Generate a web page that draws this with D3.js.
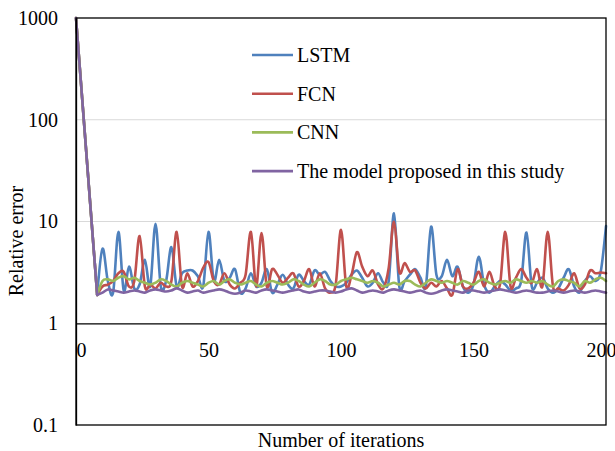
<!DOCTYPE html>
<html>
<head>
<meta charset="utf-8">
<script src="https://cdn.jsdelivr.net/npm/d3@7"></script>
<style>
  body { margin: 0; background: #fff; }
  text { font-family: "Liberation Serif", "Times New Roman", serif; fill: #000; }
</style>
</head>
<body>
<svg id="chart" width="615" height="451"></svg>
<script>
var iterations = [0,
  8, 10, 12, 14, 16, 18, 20, 22, 24, 26,
  28, 30, 32, 34, 36, 38, 40, 42, 44, 46,
  48, 50, 52, 54, 56, 58, 60, 62, 64, 66,
  68, 70, 72, 74, 76, 78, 80, 82, 84, 86,
  88, 90, 92, 94, 96, 98, 100, 102, 104, 106,
  108, 110, 112, 114, 116, 118, 120, 122, 124, 126,
  128, 130, 132, 134, 136, 138, 140, 142, 144, 146,
  148, 150, 152, 154, 156, 158, 160, 162, 164, 166,
  168, 170, 172, 174, 176, 178, 180, 182, 184, 186,
  188, 190, 192, 194, 196, 198, 200];

var lstm = [1000,
  1.9, 5.4, 2.6, 2.0, 7.9, 2.1, 3.6, 2.2, 2.4, 4.2,
  2.3, 9.5, 2.3, 2.6, 5.6, 2.3, 3.1, 3.3, 3.3, 2.9,
  2.3, 7.9, 2.6, 4.2, 2.6, 2.8, 3.4, 2.0, 2.2, 3.1,
  2.3, 2.5, 3.4, 2.0, 2.4, 3.0, 2.4, 2.2, 3.0, 2.6,
  2.4, 3.3, 3.0, 3.2, 2.6, 2.3, 2.3, 2.5, 3.0, 3.3,
  2.8, 2.3, 2.5, 3.1, 2.5, 2.6, 12, 2.3, 2.6, 3.0,
  3.4, 2.8, 2.3, 8.9, 3.0, 2.9, 4.2, 2.9, 3.6, 2.3,
  2.0, 2.4, 4.5, 2.4, 2.0, 2.3, 2.6, 2.4, 2.1, 2.2,
  2.6, 7.8, 2.3, 2.5, 2.8, 2.2, 2.0, 2.2, 2.8, 3.4,
  2.3, 2.0, 2.6, 2.9, 2.6, 3.2, 9.0];

var fcn = [1000,
  1.9, 2.3, 2.4, 2.6, 3.1, 3.2, 2.3, 2.6, 7.2, 2.3,
  2.4, 2.2, 2.5, 2.3, 2.6, 7.9, 2.3, 3.1, 2.3, 2.6,
  3.5, 4.0, 2.6, 2.4, 3.1, 2.4, 2.2, 2.5, 3.0, 7.9,
  2.3, 7.7, 2.3, 3.4, 3.0, 2.5, 2.8, 3.1, 2.3, 2.6,
  3.4, 2.3, 3.1, 2.2, 2.0, 2.4, 8.3, 2.3, 3.0, 5.0,
  3.6, 2.9, 3.3, 2.4, 2.2, 3.5, 9.9, 3.2, 3.9, 3.2,
  3.3, 2.5, 2.2, 2.5, 2.3, 2.6, 2.2, 1.9, 3.4, 2.3,
  2.2, 2.5, 3.2, 2.3, 3.2, 2.3, 2.4, 7.9, 2.3, 2.8,
  3.4, 2.8, 2.5, 3.4, 2.3, 7.9, 2.3, 2.2, 2.1, 2.4,
  3.1, 2.2, 2.4, 3.3, 3.1, 3.15, 3.1];

var cnn = [1000,
  1.9, 2.6, 2.7, 2.6, 2.8, 2.9, 2.7, 2.8, 2.6, 2.5,
  2.4, 2.5, 2.7, 2.6, 2.4, 2.3, 2.5, 2.6, 2.5, 2.4,
  2.3, 2.5, 2.6, 2.4, 2.6, 2.7, 2.5, 2.4, 2.5, 2.6,
  2.4, 2.3, 2.5, 2.6, 2.5, 2.4, 2.5, 2.7, 2.6, 2.4,
  2.3, 2.5, 2.7, 2.6, 2.4, 2.4, 2.6, 2.7, 2.8, 2.7,
  2.6, 2.5, 2.6, 2.5, 2.3, 2.4, 2.5, 2.4, 2.6, 2.6,
  2.4, 2.3, 2.5, 2.7, 2.6, 2.5, 2.6, 2.5, 2.4, 2.6,
  2.5, 2.4, 2.6, 2.7, 2.5, 2.4, 2.5, 2.6, 2.5, 2.7,
  2.6, 2.5, 2.6, 2.5, 2.6, 2.4, 2.3, 2.6, 2.7, 2.6,
  2.5, 2.3, 2.6, 2.5, 2.7, 2.8, 2.6];

var proposed = [1000,
  1.9, 2.0, 2.15, 2.1, 2.05, 2.0, 2.05, 2.1, 2.05, 2.0,
  2.1, 2.15, 2.1, 2.05, 2.1, 2.2, 2.1, 2.0, 2.05, 2.1,
  2.0, 2.05, 2.1, 2.15, 2.1, 2.0, 1.95, 2.0, 2.1, 2.05,
  2.0, 2.1, 2.15, 2.1, 2.05, 2.0, 2.05, 2.1, 2.15, 2.05,
  2.0, 2.05, 2.1, 2.1, 2.05, 2.0, 2.05, 2.15, 2.2, 2.1,
  2.0, 2.05, 2.1, 2.05, 2.0, 2.1, 2.15, 2.1, 2.05, 2.0,
  2.05, 2.1, 2.0, 1.95, 2.0, 2.1, 2.15, 2.1, 2.05, 2.0,
  2.1, 2.1, 2.05, 2.0, 2.05, 2.1, 2.15, 2.1, 2.05, 2.0,
  2.05, 2.1, 2.05, 2.0, 2.0, 2.05, 2.1, 2.05, 2.0, 2.05,
  2.1, 2.05, 2.0, 2.05, 2.1, 2.05, 2.0];

var seriesNames = ["LSTM", "FCN", "CNN", "The model proposed in this study"];
var seriesValues = [lstm, fcn, cnn, proposed];
var seriesColors = ["#4F81BD", "#C0504D", "#9BBB59", "#8064A2"];

var yTicks = [0.1, 1, 10, 100, 1000];
var yGrid = [10, 100];
var xTicks = [0, 50, 100, 150, 200];

var FONT = 20;
var svg = d3.select("#chart");

var x = d3.scaleLinear().domain([0, 200]).range([76, 606]);
var y = d3.scaleLog().domain([0.1, 1000]).range([425, 18]);

// gridlines
svg.append("g")
  .selectAll("line")
  .data(yGrid)
  .join("line")
    .attr("x1", x(0)).attr("x2", x(200))
    .attr("y1", function(d) { return y(d); })
    .attr("y2", function(d) { return y(d); })
    .style("stroke", "#D9D9D9")
    .style("stroke-width", 1.2);

// series: straight first drop, smoothed afterwards
var dropLine = d3.line()
  .x(function(d) { return x(d[0]); })
  .y(function(d) { return y(d[1]); });

var smoothLine = d3.line()
  .x(function(d) { return x(d[0]); })
  .y(function(d) { return y(d[1]); })
  .curve(d3.curveCardinal.tension(0));

function pairs(values) {
  return values.map(function(v, i) { return [iterations[i], v]; });
}

var series = svg.append("g")
  .selectAll("g")
  .data(seriesValues)
  .join("g")
    .style("fill", "none")
    .style("stroke", function(d, i) { return seriesColors[i]; })
    .style("stroke-width", 2.6)
    .style("stroke-linejoin", "round")
    .style("stroke-linecap", "round");

series.append("path")
  .attr("d", function(d) { return dropLine(pairs(d).slice(0, 2)); });
series.append("path")
  .attr("d", function(d) { return smoothLine(pairs(d).slice(1)); });

// plot border
svg.append("rect")
  .attr("x", x(0)).attr("y", y(1000))
  .attr("width", x(200) - x(0))
  .attr("height", y(0.1) - y(1000))
  .style("fill", "none")
  .style("stroke", "#000")
  .style("stroke-width", 1.3);

// y axis
var yAxis = svg.append("g")
  .attr("transform", "translate(" + x(0) + ",0)")
  .call(d3.axisLeft(y).tickValues(yTicks).tickSize(0).tickPadding(18)
    .tickFormat(d3.format("~g")));
yAxis.select(".domain").style("stroke", "#000").style("stroke-width", 1.3);
yAxis.selectAll("text").style("font-size", FONT + "px")
  .style("font-family", "'Liberation Serif', serif");

// x axis crossing at y = 1
svg.append("clipPath").attr("id", "xclip")
  .append("rect").attr("x", x(0) + 1).attr("y", 0).attr("width", 615).attr("height", 451);

var xAxis = svg.append("g")
  .attr("transform", "translate(0," + y(1) + ")")
  .attr("clip-path", "url(#xclip)")
  .call(d3.axisBottom(x).tickValues(xTicks).tickSize(0).tickPadding(20)
    .tickFormat(d3.format("d")));
xAxis.select(".domain").style("stroke", "#000").style("stroke-width", 1.3);
xAxis.selectAll("text").style("font-size", FONT + "px")
  .style("font-family", "'Liberation Serif', serif")
  .attr("dx", function(d) { return d === 0 ? 5 : (d === 200 ? -5 : 0); });

// axis titles
svg.append("text")
  .attr("transform", "translate(23,241) rotate(-90)")
  .attr("text-anchor", "middle")
  .style("font-size", FONT + "px")
  .text("Relative error");

svg.append("text")
  .attr("x", 341).attr("y", 447)
  .attr("text-anchor", "middle")
  .style("font-size", FONT + "px")
  .text("Number of iterations");

// legend
var legend = svg.append("g").attr("transform", "translate(252,55)");
var items = legend.selectAll("g")
  .data(seriesNames)
  .join("g")
    .attr("transform", function(d, i) { return "translate(0," + (i * 38.7) + ")"; });

items.append("line")
  .attr("x1", 0).attr("x2", 41)
  .attr("y1", 0).attr("y2", 0)
  .style("stroke", function(d, i) { return seriesColors[i]; })
  .style("stroke-width", 2.6);

items.append("text")
  .attr("x", 45).attr("y", 7)
  .style("font-size", FONT + "px")
  .text(function(d) { return d; });
</script>
</body>
</html>
